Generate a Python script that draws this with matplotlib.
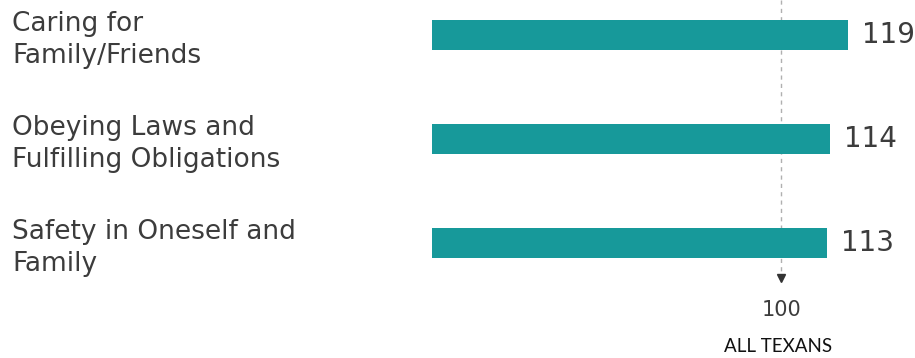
import matplotlib
matplotlib.use("Agg")
import matplotlib.pyplot as plt

# ---------- DATA ----------
categories = ["Caring for\nFamily/Friends",
              "Obeying Laws and\nFulfilling Obligations",
              "Safety in Oneself and\nFamily"]
values = [119, 114, 113]
baseline = 100
baseline_label = "ALL TEXANS"

teal = "#17999a"
txt = "#3c3c3c"

fig = plt.figure(figsize=(9.15, 3.58), dpi=100)
W, H = 915, 358
# axes placed so value 0 sits at x=432 px, rows at 35/139/243 px
ax = fig.add_axes([432 / W, 0, (886 - 432) / W, 1])
ax.set_xlim(0, 130)
ax.set_ylim(3.106, -0.337)
ax.axis("off")

ypos = list(range(len(values)))
ax.barh(ypos, values, height=0.29, color=teal, zorder=2)

# dashed reference line + marker
ax.plot([baseline, baseline], [-0.337, 2.27], color="#b0b0b0", lw=1,
        ls=(0, (3, 3)), zorder=1)
ax.plot([baseline], [2.34], marker="v", color="#333333", markersize=6)
ax.text(baseline, 2.64, str(baseline), ha="center", va="center",
        fontsize=15, color=txt)
ax.text(baseline - 1, 3.0, baseline_label, ha="center", va="center",
        fontsize=13.5, color="#111111", family="Lato")

for y, v, c in zip(ypos, values, categories):
    ax.text(v + 4, y, str(v), ha="left", va="center", fontsize=20,
            color=txt, clip_on=False)
    fig.text(12 / W, 1 - (35 + 104 * y + 5) / H, c, ha="left", va="center",
             fontsize=19, color=txt, linespacing=1.3)

fig.savefig("out.png", dpi=100, facecolor="white")
